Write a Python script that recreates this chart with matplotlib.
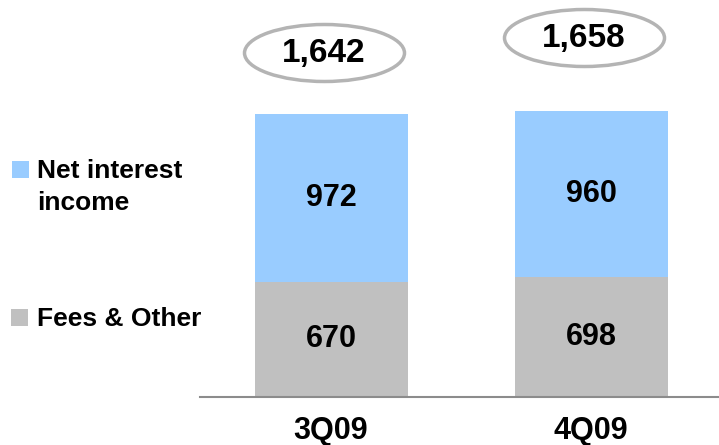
import matplotlib
matplotlib.use("Agg")
import matplotlib.pyplot as plt
from matplotlib.patches import Ellipse, Rectangle

# Revenue breakdown by quarter
quarters = ["3Q09", "4Q09"]
fees_other = [670, 698]
net_interest = [972, 960]
totals = [1642, 1658]

blue = "#99CCFF"
gray = "#C0C0C0"

W, H = 719, 445
fig = plt.figure(figsize=(W / 100, H / 100), dpi=100)
plt.rcParams["font.family"] = ["Liberation Sans", "DejaVu Sans"]

# axes spanning from the baseline to the top of the figure
base_px = 397
ax = fig.add_axes([200 / W, (H - base_px) / H, 519 / W, base_px / H])
px_per_unit = 283 / 1642.0
ax.set_ylim(0, base_px / px_per_unit)
ax.set_xlim(-131 / 260, (719 - 331) / 260)

x = list(range(len(quarters)))
bw = 153 / 260
ax.bar(x, fees_other, width=bw, color=gray, edgecolor="none", zorder=2)
ax.bar(x, net_interest, width=bw, bottom=fees_other, color=blue, edgecolor="none", zorder=2)

for xi, f, n in zip(x, fees_other, net_interest):
    ax.text(xi, f / 2, f"{f:,}", ha="center", va="center", fontsize=22, fontweight="bold")
    ax.text(xi, f + n / 2, f"{n:,}", ha="center", va="center", fontsize=22, fontweight="bold")

# totals inside ellipses above the bars
ell_y = [base_px - 53, base_px - 38]
for xi, t, ey in zip(x, totals, ell_y):
    yc = ey / px_per_unit
    ax.add_patch(Ellipse((xi - 0.025, yc), 160 / 260, 57 / px_per_unit, facecolor="white",
                         edgecolor="#B4B4B4", linewidth=2.5, clip_on=False, zorder=3))
    ax.text(xi - 0.03, yc, f"{t:,}", ha="center", va="center", fontsize=24,
            fontweight="bold", zorder=4)

for s in ["top", "right", "left"]:
    ax.spines[s].set_visible(False)
ax.spines["bottom"].set_color("#8C8C8C")
ax.spines["bottom"].set_linewidth(1.5)
ax.set_yticks([])
ax.set_xticks(x)
ax.set_xticklabels(quarters, fontsize=22, fontweight="bold")
ax.tick_params(axis="x", length=0, pad=14)

# legend drawn at the left side
def fy(py):
    return 1 - py / H

fig.patches.append(Rectangle((12 / W, fy(178)), 17 / W, 17 / H, transform=fig.transFigure,
                             facecolor=blue, edgecolor="none"))
fig.text(37 / W, fy(171), "Net interest", fontsize=19, fontweight="bold", va="center")
fig.text(37 / W, fy(203), "income", fontsize=19, fontweight="bold", va="center")
fig.patches.append(Rectangle((11 / W, fy(326)), 17 / W, 17 / H, transform=fig.transFigure,
                             facecolor=gray, edgecolor="none"))
fig.text(37 / W, fy(319), "Fees & Other", fontsize=19, fontweight="bold", va="center")

fig.savefig("out.png", dpi=100)
